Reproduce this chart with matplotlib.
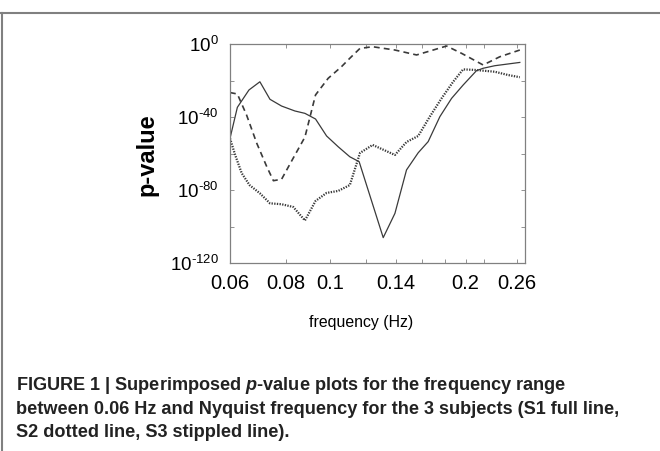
import matplotlib
matplotlib.use("Agg")
import matplotlib.pyplot as plt
from matplotlib.lines import Line2D
from matplotlib.ticker import FixedLocator, NullFormatter
import numpy as np

plt.rcParams["font.family"] = ["Liberation Sans", "DejaVu Sans"]
plt.rcParams["mathtext.fontset"] = "custom"
plt.rcParams["mathtext.rm"] = "Liberation Sans"
plt.rcParams["mathtext.it"] = "Liberation Sans:italic:bold"

# S1 (full line): frequency (Hz) and log10 p-value
s1_freq = [0.0600, 0.0623, 0.0661, 0.0699, 0.0736, 0.0781, 0.0836, 0.0880,
           0.0929, 0.0983, 0.1043, 0.1107, 0.1161, 0.1313, 0.1394, 0.1479,
           0.1570, 0.1652, 0.1754, 0.1862, 0.1975, 0.2115, 0.2188, 0.2322,
           0.2639]
s1_logp = [-51.7, -34.7, -25.2, -20.7, -30.3, -34.0, -36.7, -38.0,
           -41.1, -50.4, -56.3, -61.8, -64.5, -106.1, -92.8, -69.0,
           -59.6, -53.5, -39.8, -29.8, -22.5, -14.6, -13.3, -11.9,
           -10.1]

# S2 (dotted line)
s2_freq = [0.0600, 0.0616, 0.0637, 0.0663, 0.0699, 0.0736, 0.0781, 0.0829,
           0.0880, 0.0929, 0.0983, 0.1043, 0.1107, 0.1166, 0.1244, 0.1394,
           0.1479, 0.1570, 0.1666, 0.1769, 0.1877, 0.1975, 0.2097, 0.2322,
           0.2486, 0.2639]
s2_logp = [-51.7, -60.8, -70.8, -77.3, -81.8, -87.3, -87.8, -89.3,
           -96.7, -86.0, -81.6, -80.5, -77.3, -59.7, -55.3, -60.8,
           -53.7, -50.4, -39.8, -29.8, -20.7, -13.9, -14.2, -15.2,
           -17.0, -18.2]

# S3 (stippled line)
s3_freq = [0.0600, 0.0623, 0.0653, 0.0688, 0.0724, 0.0749, 0.0781, 0.0829,
           0.0880, 0.0929, 0.0991, 0.1061, 0.1107, 0.1166, 0.1244, 0.1394,
           0.1557, 0.1695, 0.1815, 0.1959, 0.2188, 0.2382, 0.2639]
s3_logp = [-26.6, -27.4, -38.9, -54.4, -67.2, -74.9, -74.1, -62.5,
           -51.0, -27.9, -18.8, -12.4, -7.8, -2.4, -1.5, -3.3,
           -6.0, -3.3, -1.1, -5.1, -11.5, -7.0, -3.3]

x_major = [0.06, 0.08, 0.1, 0.14, 0.2, 0.26]
x_major_labels = ["0.06", "0.08", "0.1", "0.14", "0.2", "0.26"]
x_minor = [0.12, 0.16, 0.18, 0.22]
y_major_exp = [0, -40, -80, -120]
y_minor_exp = [-20, -60, -100]

caption_lines = [
    r"FIGURE 1 | Superimposed $\mathit{p}$-value plots for the frequency range",
    "between 0.06 Hz and Nyquist frequency for the 3 subjects (S1 full line,",
    "S2 dotted line, S3 stippled line).",
]

LINE_COLOR = "#3a3a3a"
FRAME_COLOR = "#808080"

fig = plt.figure(figsize=(6.6, 4.51), dpi=100)
ax = fig.add_axes([230 / 660, 1 - 263 / 451, 295 / 660, 219 / 451])

ax.plot(s1_freq, 10.0 ** np.array(s1_logp), color=LINE_COLOR, lw=0.9,
        linestyle="-")
ax.plot(s2_freq, 10.0 ** np.array(s2_logp), color=LINE_COLOR, lw=1.6,
        linestyle=(0, (0.6, 0.6)))
ax.plot(s3_freq, 10.0 ** np.array(s3_logp), color=LINE_COLOR, lw=1.2,
        linestyle=(0, (3.5, 2.5)))

ax.set_xscale("log")
ax.set_yscale("log")
ax.set_xlim(0.06, 0.271)
ax.set_ylim(1e-120, 1e0)

ax.xaxis.set_major_locator(FixedLocator(x_major))
ax.xaxis.set_minor_locator(FixedLocator(x_minor))
ax.set_xticklabels(x_major_labels)
ax.xaxis.set_minor_formatter(NullFormatter())

y_ticks = [10.0 ** e for e in y_major_exp]
ax.yaxis.set_major_locator(FixedLocator(y_ticks))
ax.yaxis.set_minor_locator(FixedLocator([10.0 ** e for e in y_minor_exp]))
ax.set_yticklabels([r"$10^{\text{%d}}$" % e for e in y_major_exp])
ax.yaxis.set_minor_formatter(NullFormatter())

ax.tick_params(axis="both", which="both", direction="in", top=True,
               right=True, length=3, width=0.6, color=FRAME_COLOR)
ax.tick_params(axis="x", which="major", labelsize=14.5, pad=8)
ax.tick_params(axis="y", which="major", labelsize=13.5, pad=8)
for spine in ax.spines.values():
    spine.set_color(FRAME_COLOR)
    spine.set_linewidth(0.9)

ax.set_xlabel("frequency (Hz)", fontsize=11.4)
ax.xaxis.set_label_coords((361 - 230) / 295, -(322 - 263) / 219)
ax.xaxis.label.set_va("center")
ax.set_ylabel("p-value", fontsize=17, fontweight="bold")
ax.yaxis.set_label_coords(-(230 - 147) / 295, (263 - 155) / 219)
ax.yaxis.label.set_va("center")

# outer panel frame (top and left edges)
fig.add_artist(Line2D([0, 1], [1 - 13 / 451, 1 - 13 / 451],
                      transform=fig.transFigure, color=FRAME_COLOR, lw=1.5))
fig.add_artist(Line2D([1.5 / 660, 1.5 / 660], [0, 1 - 13 / 451],
                      transform=fig.transFigure, color=FRAME_COLOR, lw=1.5))

baselines = [390, 414, 437]
for text, base in zip(caption_lines, baselines):
    fig.text(16 / 660, 1 - base / 451, text, fontsize=13.1,
             fontweight="bold", va="baseline", ha="left", color="#222222")

fig.savefig("out.png", dpi=100)
